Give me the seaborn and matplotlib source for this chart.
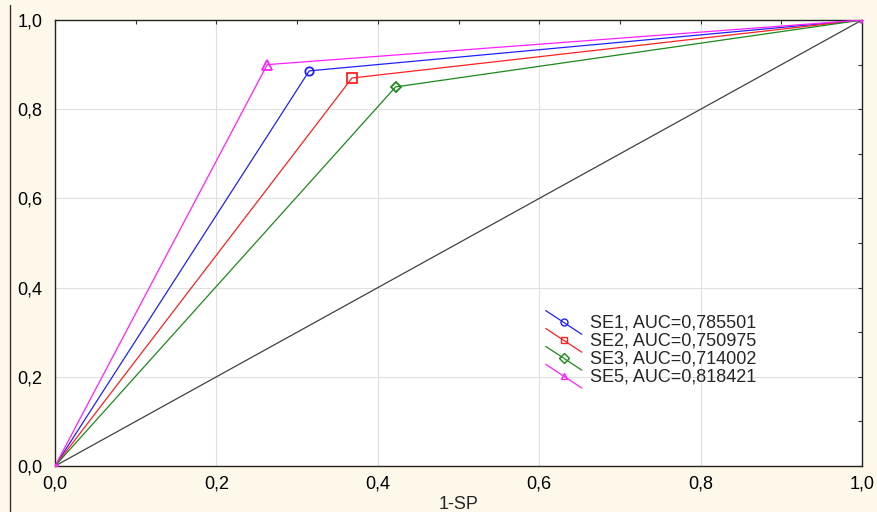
import numpy as np
import pandas as pd
import matplotlib
matplotlib.use('Agg')
import matplotlib.pyplot as plt
import seaborn as sns
from matplotlib.ticker import MultipleLocator, FuncFormatter
from matplotlib.legend_handler import HandlerLine2D
from matplotlib.lines import Line2D

# Datos (punto de corte de cada curva ROC)
series = ['SE1', 'SE2', 'SE3', 'SE5']
fpr = [0.315, 0.368, 0.422, 0.263]
tpr = [0.886, 0.870, 0.850, 0.900]
auc = ['0,785501', '0,750975', '0,714002', '0,818421']
colores = ['#2020ff', '#ff2020', '#1a8a1a', '#ff20ff']
marcadores = ['o', 's', 'D', '^']
tam_marcador = [6, 7, 5, 7]

filas = []
for s, x, y in zip(series, fpr, tpr):
    for px, py in [(0.0, 0.0), (x, y), (1.0, 1.0)]:
        filas.append({'serie': s, '1-SP': px, 'SE': py})
df = pd.DataFrame(filas)

sns.set_style('white')
plt.rcParams['font.family'] = ['Liberation Sans', 'DejaVu Sans']

fig = plt.figure(figsize=(8.77, 5.12), dpi=100, facecolor='#fdf8ea')
ax = fig.add_axes([0.0627, 0.0898, 0.9203, 0.8711])
ax.set_facecolor('white')

# Diagonal de referencia
ax.plot([0, 1], [0, 1], color='#404040', lw=0.9, zorder=2)

handles = []
for s, c, m, ms, a in zip(series, colores, marcadores, tam_marcador, auc):
    d = df[df['serie'] == s]
    sns.lineplot(data=d, x='1-SP', y='SE', sort=False, color=c, lw=0.9,
                 estimator=None, ax=ax, zorder=3)
    pto = d.iloc[1]
    ax.plot(pto['1-SP'], pto['SE'], marker=m, ms=ms, mfc='none', mec=c,
            mew=1.3, ls='none', zorder=4)
    ax.plot([0, 1], [0, 1], marker='s', ms=3, color=c, ls='none', zorder=4)
    handles.append(Line2D([], [], color=c, lw=0.9, marker=m, ms=5, mfc='none',
                          mec=c, label=f'{s}, AUC={a}'))


class HandlerDiagonal(HandlerLine2D):
    def create_artists(self, legend, orig_handle, xdescent, ydescent,
                       width, height, fontsize, trans):
        linea = Line2D([-xdescent, -xdescent + width],
                       [height + 3, -5], color=orig_handle.get_color(),
                       lw=orig_handle.get_linewidth(), transform=trans)
        marca = Line2D([-xdescent + width / 2], [height / 2 - 1],
                       marker=orig_handle.get_marker(), ms=5, mfc='none',
                       mec=orig_handle.get_color(), mew=1.0, ls='none',
                       transform=trans)
        return [linea, marca]


ax.legend(handles=handles, handler_map={Line2D: HandlerDiagonal()},
          loc='upper left', bbox_to_anchor=(0.608, 0.34), frameon=False,
          fontsize=13, handlelength=2.0, handletextpad=0.45,
          labelspacing=0.05, borderaxespad=0, borderpad=0)

ax.set_xlim(0, 1)
ax.set_ylim(0, 1)
ax.xaxis.set_major_locator(MultipleLocator(0.2))
ax.yaxis.set_major_locator(MultipleLocator(0.2))
ax.xaxis.set_minor_locator(MultipleLocator(0.1))
ax.yaxis.set_minor_locator(MultipleLocator(0.1))
fmt = FuncFormatter(lambda v, p: f'{v:.1f}'.replace('.', ','))
ax.xaxis.set_major_formatter(fmt)
ax.yaxis.set_major_formatter(fmt)
ax.grid(True, which='major', color='#e0e0e0', lw=0.8, zorder=0)
ax.tick_params(which='both', direction='in', length=3, width=0.8,
               colors='#333333', top=True, right=True, labelsize=13)
ax.tick_params(which='major', labelcolor='black')
ax.tick_params(axis='x', which='major', pad=7)
ax.tick_params(axis='y', which='major', pad=9)
for lado in ax.spines.values():
    lado.set_color('#222222')
    lado.set_linewidth(1.0)

ax.set_xlabel('1-SP', fontsize=13, labelpad=2)
ax.set_ylabel('')

# Borde izquierdo del panel
fig.add_artist(Line2D([0.0114, 0.0114], [0, 0.99], color='#333333', lw=1.0,
                      transform=fig.transFigure))

fig.savefig('out.png', dpi=100, facecolor=fig.get_facecolor())
